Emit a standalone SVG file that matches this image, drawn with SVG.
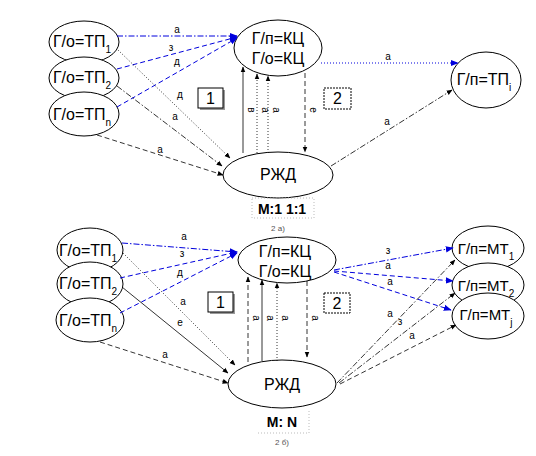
<svg xmlns="http://www.w3.org/2000/svg" width="536" height="456" viewBox="0 0 536 456">
<style>
.n{fill:#fff;stroke:#000;stroke-width:1}
.t{font-family:"Liberation Sans",Arial,sans-serif;font-size:16px;fill:#000;text-anchor:middle}
.sub{font-size:10px}
.lb{font-family:"Liberation Sans",Arial,sans-serif;font-size:10px;fill:#000;text-anchor:middle}
.k{fill:none;stroke:#000;stroke-width:0.8}
.b{fill:none;stroke:#0000dd;stroke-width:1}
.dot{stroke-dasharray:1 2}
.dash{stroke-dasharray:5 3}
.dd{stroke-dasharray:6 2 1.5 2}
.box{fill:#fff;stroke:#000;stroke-width:1}
.cap{font-family:"Liberation Sans",Arial,sans-serif;font-size:14px;font-weight:bold;fill:#000;text-anchor:middle}
.sm{font-family:"Liberation Sans",Arial,sans-serif;font-size:8px;fill:#555;text-anchor:middle}
</style>
<defs>
<marker id="ak" viewBox="0 0 10 10" refX="9" refY="5" markerWidth="6" markerHeight="6" orient="auto" markerUnits="userSpaceOnUse"><path d="M0,1 L10,5 L0,9 z" fill="#000"/></marker>
<marker id="ab" viewBox="0 0 10 10" refX="9" refY="5" markerWidth="8" markerHeight="8" orient="auto" markerUnits="userSpaceOnUse"><path d="M0,1 L10,5 L0,9 z" fill="#0000dd"/></marker>
</defs>

<!-- ===== Top part: M:1 1:1 ===== -->
<g id="top-tp1"><ellipse class="n" cx="84" cy="42" rx="35" ry="21"/><text class="t" x="82" y="47">Г/о=ТП<tspan class="sub" dy="6">1</tspan></text></g>
<g id="top-tp2"><ellipse class="n" cx="84" cy="78" rx="35" ry="21"/><text class="t" x="82" y="83">Г/о=ТП<tspan class="sub" dy="6">2</tspan></text></g>
<g id="top-tpn"><ellipse class="n" cx="84" cy="114" rx="35" ry="22"/><text class="t" x="82" y="120">Г/о=ТП<tspan class="sub" dy="6">n</tspan></text></g>
<g id="top-kc"><ellipse class="n" cx="278" cy="48" rx="44" ry="28"/><text class="t" x="278" y="44">Г/п=КЦ</text><text class="t" x="278" y="64">Г/о=КЦ</text></g>
<g id="top-rzd"><ellipse class="n" cx="278" cy="175" rx="55" ry="23"/><text class="t" x="278" y="180">РЖД</text></g>
<g id="top-tpi"><ellipse class="n" cx="486" cy="80" rx="35" ry="28"/><text class="t" x="484" y="85">Г/п=ТП<tspan class="sub" dy="6">i</tspan></text></g>
<g id="top-box1"><rect x="200" y="90" width="25" height="20" fill="#999"/><rect class="box" x="198" y="88" width="25" height="20"/><text class="t" x="210.5" y="104">1</text></g>
<g id="top-box2"><rect class="box" x="324" y="88" width="27" height="21" stroke-dasharray="2 1"/><text class="t" x="337.5" y="104">2</text></g>
<g id="top-caption"><rect x="252" y="198" width="62" height="20" fill="none" stroke="#aaa" stroke-width="0.8" stroke-dasharray="1 2"/><text class="cap" x="282" y="214">M:1 1:1</text><text class="sm" x="278" y="231">2 а)</text></g>

<g id="top-connectors">
<path class="b dd" d="M117,36 L237,36" marker-end="url(#ab)"/>
<path class="b dash" d="M117,69 L237,37" marker-end="url(#ab)"/>
<path class="b dash" d="M117,107 L237,38" marker-end="url(#ab)"/>
<path class="k dot" d="M118,50 L230,158" marker-end="url(#ak)"/>
<path class="k dd" d="M117,86 L222,166" marker-end="url(#ak)"/>
<path class="k dash" d="M97,135 L223,175" marker-end="url(#ak)"/>
<path class="k" d="M243,153 L243,67" marker-end="url(#ak)"/>
<path class="k dot" d="M257,153 L257,74" marker-end="url(#ak)"/>
<path class="k dot" d="M268,153 L268,76" marker-end="url(#ak)"/>
<path class="k dash" d="M305,73 L305,152" marker-end="url(#ak)"/>
<path class="b dot" d="M321,63 L458,63" marker-end="url(#ab)"/>
<path class="k dd" d="M331,166 L452,90" marker-end="url(#ak)"/>
<text class="lb" x="177" y="33">а</text>
<text class="lb" x="171" y="51">з</text>
<text class="lb" x="177" y="65">д</text>
<text class="lb" x="180" y="98">д</text>
<text class="lb" x="175" y="120">а</text>
<text class="lb" x="160" y="153">а</text>
<text class="lb" transform="translate(248,110) rotate(90)">в</text>
<text class="lb" transform="translate(262,110) rotate(90)">а</text>
<text class="lb" transform="translate(273,110) rotate(90)">а</text>
<text class="lb" transform="translate(310,110) rotate(90)">е</text>
<text class="lb" x="388" y="60">а</text>
<text class="lb" x="387" y="125">а</text>
</g>

<!-- ===== Bottom part: M:N ===== -->
<g id="bot-tp1"><ellipse class="n" cx="90" cy="250" rx="33" ry="22"/><text class="t" x="88" y="256">Г/о=ТП<tspan class="sub" dy="6">1</tspan></text></g>
<g id="bot-tp2"><ellipse class="n" cx="90" cy="284" rx="33" ry="22"/><text class="t" x="88" y="289">Г/о=ТП<tspan class="sub" dy="6">2</tspan></text></g>
<g id="bot-tpn"><ellipse class="n" cx="90" cy="320" rx="34" ry="22"/><text class="t" x="88" y="326">Г/о=ТП<tspan class="sub" dy="6">n</tspan></text></g>
<g id="bot-kc"><ellipse class="n" cx="287" cy="260" rx="49" ry="23"/><text class="t" x="285" y="257">Г/п=КЦ</text><text class="t" x="285" y="277">Г/о=КЦ</text></g>
<g id="bot-rzd"><ellipse class="n" cx="282" cy="384" rx="54" ry="24"/><text class="t" x="282" y="390">РЖД</text></g>
<g id="bot-mt1"><ellipse class="n" cx="488" cy="248" rx="36" ry="22"/><text class="t" x="486" y="254" style="font-size:15px">Г/п=МТ<tspan class="sub" dy="6">1</tspan></text></g>
<g id="bot-mt2"><ellipse class="n" cx="488" cy="285" rx="36" ry="22"/><text class="t" x="486" y="291" style="font-size:15px">Г/п=МТ<tspan class="sub" dy="6">2</tspan></text></g>
<g id="bot-mtj"><ellipse class="n" cx="488" cy="316" rx="36" ry="23"/><text class="t" x="486" y="320" style="font-size:15px">Г/п=МТ<tspan class="sub" dy="6">j</tspan></text></g>
<g id="bot-box1"><rect x="210" y="294" width="25" height="20" fill="#999"/><rect class="box" x="208" y="292" width="25" height="20"/><text class="t" x="220.5" y="308">1</text></g>
<g id="bot-box2"><rect class="box" x="324" y="293" width="26" height="20" stroke-dasharray="2 1"/><text class="t" x="337" y="309">2</text></g>
<g id="bot-caption"><path d="M258,433 L309,433 L309,410" fill="none" stroke="#aaa" stroke-width="0.8" stroke-dasharray="1 2"/><text class="cap" x="282" y="427">M: N</text><text class="sm" x="282" y="445">2 б)</text></g>

<g id="bot-connectors">
<path class="b dd" d="M122,243 L237,252" marker-end="url(#ab)"/>
<path class="b dash" d="M120,278 L237,252" marker-end="url(#ab)"/>
<path class="b dash" d="M120,313 L237,253" marker-end="url(#ab)"/>
<path class="k dot" d="M123,253 L235,365" marker-end="url(#ak)"/>
<path class="k" d="M122,287 L228,373" marker-end="url(#ak)"/>
<path class="k dash" d="M100,342 L228,383" marker-end="url(#ak)"/>
<path class="k dash" d="M248,362 L248,277" marker-end="url(#ak)"/>
<path class="k" d="M262,361 L262,280" marker-end="url(#ak)"/>
<path class="k dot" d="M277,361 L277,283" marker-end="url(#ak)"/>
<path class="k dash" d="M307,281 L307,357" marker-end="url(#ak)"/>
<path class="b dd" d="M334,270 L453,248" marker-end="url(#ab)"/>
<path class="b dash" d="M334,271 L453,281" marker-end="url(#ab)"/>
<path class="b dash" d="M334,272 L451,310" marker-end="url(#ab)"/>
<path class="k dd" d="M337,383 L455,260" marker-end="url(#ak)"/>
<path class="k dd" d="M339,383 L455,293" marker-end="url(#ak)"/>
<path class="k dash" d="M340,384 L456,325" marker-end="url(#ak)"/>
<text class="lb" x="184" y="240">а</text>
<text class="lb" x="182" y="257">з</text>
<text class="lb" x="180" y="276">д</text>
<text class="lb" x="183" y="305">а</text>
<text class="lb" x="180" y="326">е</text>
<text class="lb" x="165" y="358">а</text>
<text class="lb" transform="translate(253,318) rotate(90)">а</text>
<text class="lb" transform="translate(267,318) rotate(90)">а</text>
<text class="lb" transform="translate(282,318) rotate(90)">а</text>
<text class="lb" transform="translate(312,318) rotate(90)">а</text>
<text class="lb" x="388" y="254">з</text>
<text class="lb" x="388" y="269">а</text>
<text class="lb" x="390" y="285">а</text>
<text class="lb" x="390" y="317">а</text>
<text class="lb" x="400" y="325">з</text>
<text class="lb" x="412" y="339">а</text>
</g>
</svg>
